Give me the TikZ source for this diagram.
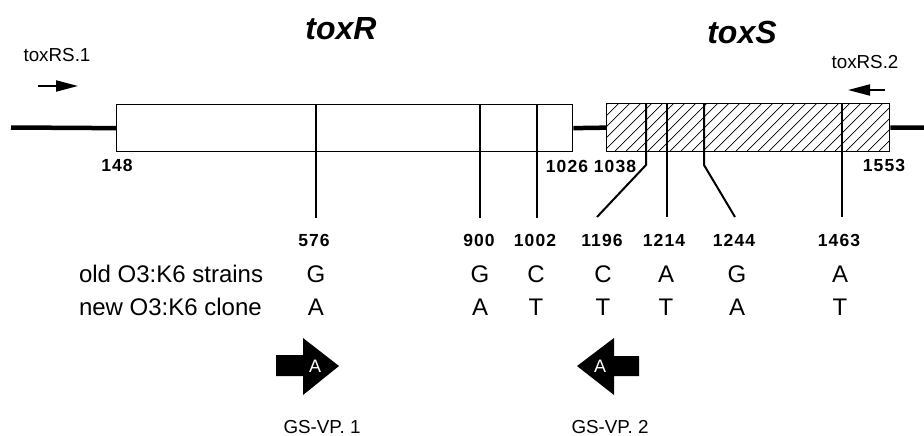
\documentclass[tikz,border=0pt]{standalone}
\usepackage{fontspec}
\setmainfont{Liberation Sans}
\usetikzlibrary{arrows.meta}
\begin{document}
\begin{tikzpicture}[x=1pt,y=-1pt,
  genebox/.style={draw, line width=1.3pt, anchor=north west, inner sep=0pt},
  backbone/.style={line width=4.5pt},
  snp/.style={line width=2pt},
  hatch/.style={line width=0.7pt},
  title/.style={font=\fontsize{32}{36}\selectfont\bfseries\itshape},
  primer/.style={font=\fontsize{18.8}{20}\selectfont},
  posnum/.style={font=\fontsize{17.5}{19}\selectfont\bfseries\addfontfeatures{LetterSpace=6}},
  row/.style={font=\fontsize{24}{26}\selectfont},
  base/.style={font=\fontsize{24}{26}\selectfont},
  primarrow/.style={line width=2pt, -{Triangle[length=22pt,width=11pt]}},
  blockarrow/.style={fill=black},
  blocklabel/.style={text=white, font=\fontsize{18}{19}\selectfont, inner sep=0pt},
]
\useasboundingbox (0,0) rectangle (924,436);

% titles
\node[title] (tR) at (341,29) {toxR};
\node[title] (tS) at (742,32) {toxS};

% primers
\node[primer] (p1) at (57,55) {toxRS.1};
\node[primer] (p2) at (865,62) {toxRS.2};
\coordinate (p1a) at (38,86);
\coordinate (p1b) at (78,86);
\coordinate (p2a) at (885,90);
\coordinate (p2b) at (848,90);
\draw[primarrow] (p1a) -- (p1b);
\draw[primarrow] (p2a) -- (p2b);

% backbone
\coordinate (bbL) at (11,127.5);
\coordinate (bbR) at (924,127.5);
\node[genebox, minimum width=456pt, minimum height=47pt] (boxR) at (116,104) {};
\node[genebox, minimum width=283pt, minimum height=48pt] (boxS) at (606,103) {};
\draw[backbone] (bbL) -- (boxR.west);
\draw[backbone] (boxR.east) -- (boxS.west);
\draw[backbone] (boxS.east) -- (bbR);

% hatching
\begin{scope}
  \clip (606,103) rectangle (889,151);
  \foreach \i in {0,11,...,330} {
    \draw[hatch] (560+\i,151) -- ++(48,-48);
  }
\end{scope}
\node[genebox, minimum width=283pt, minimum height=48pt] at (606,103) {};

% box end positions
\node[posnum] (n148) at (117,165) {148};
\node[posnum] (n1026) at (567,166) {1026};
\node[posnum] (n1038) at (615,166) {1038};
\node[posnum] (n1553) at (884,165) {1553};

% SNP labels
\node[posnum] (s576) at (314,240) {576};
\node[posnum] (s900) at (479,240) {900};
\node[posnum] (s1002) at (535,240) {1002};
\node[posnum] (s1196) at (602,240) {1196};
\node[posnum] (s1214) at (664,240) {1214};
\node[posnum] (s1244) at (734,240) {1244};
\node[posnum] (s1463) at (839,240) {1463};

% SNP lines
\draw[snp] (316,104) -- (316,218);
\draw[snp] (480,104) -- (480,218);
\draw[snp] (537,104) -- (537,218);
\draw[snp] (646,103) -- (646,165) -- (597,217);
\draw[snp] (667,103) -- (667,217);
\draw[snp] (704,103) -- (704,165) -- (735,217);
\draw[snp] (842,103) -- (842,217);

% rows
\node[row, anchor=west] (old) at (75.5,274) {old O3:K6 strains};
\node[row, anchor=west] (new) at (75.5,307) {new O3:K6 clone};
\foreach \x/\a/\b in {316/G/A, 480/G/A, 536/C/T, 603/C/T, 666/A/T, 737/G/A, 840/A/T} {
  \node[base] at (\x,274) {\a};
  \node[base] at (\x,307) {\b};
}

% block arrows
\fill[blockarrow] (276,355) -- (303,355) -- (303,338) -- (339,366) -- (303,395) -- (303,376) -- (276,376) -- cycle;
\node[blocklabel] (a1) at (315,366) {A};
\fill[blockarrow] (639,356) -- (614,356) -- (614,338) -- (577,366) -- (614,395) -- (614,376) -- (639,376) -- cycle;
\node[blocklabel] (a2) at (600,366) {A};
\node[primer] (g1) at (322,427) {GS-VP. 1};
\node[primer] (g2) at (610,427) {GS-VP. 2};
\end{tikzpicture}
\end{document}
